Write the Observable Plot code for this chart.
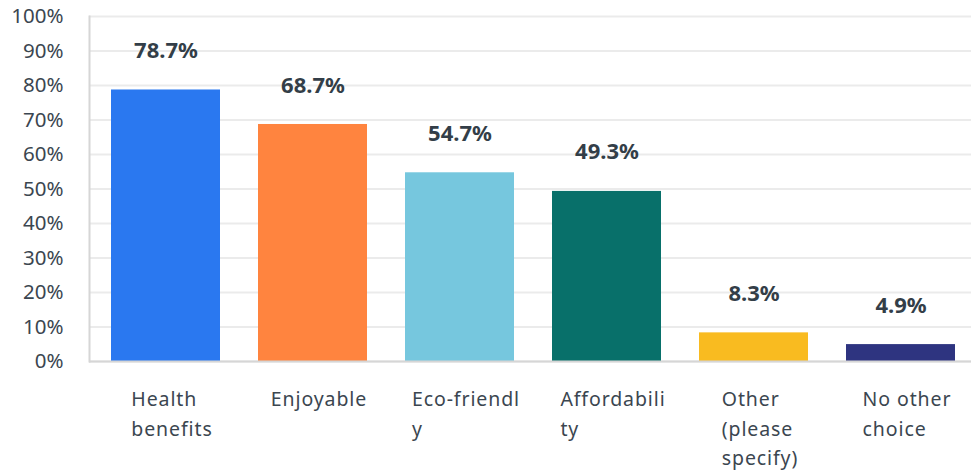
<!DOCTYPE html>
<html>
<head>
<meta charset="utf-8">
<script src="https://cdn.jsdelivr.net/npm/d3@7"></script>
<script src="https://cdn.jsdelivr.net/npm/@observablehq/plot@0.6"></script>
<style>
  html, body { margin: 0; padding: 0; background: #fff; }
  #chart svg { display: block; }
</style>
</head>
<body>
<div id="chart"></div>
<script>
const categories = ["Health benefits", "Enjoyable", "Eco-friendly", "Affordability", "Other (please specify)", "No other choice"];
const values = [78.7, 68.7, 54.7, 49.3, 8.3, 4.9];
const tickLabels = ["Health\nbenefits", "Enjoyable", "Eco-friendl\ny", "Affordabili\nty", "Other\n(please\nspecify)", "No other\nchoice"];
const colors = ["#2a78f0", "#ff843f", "#76c7de", "#08706a", "#f9bb20", "#2e3480"];
const yTicks = [0, 10, 20, 30, 40, 50, 60, 70, 80, 90, 100];

const data = categories.map((c, i) => ({category: c, value: values[i], color: colors[i], label: tickLabels[i]}));

const FONT = "'Noto Sans', sans-serif";

const chart = Plot.plot({
  width: 971,
  height: 471,
  marginTop: 16,
  marginLeft: 89,
  marginRight: 0,
  marginBottom: 110,
  style: {fontFamily: FONT, fontSize: "20px", color: "#3b4650", background: "#fff"},
  x: {domain: categories, range: [89, 977], paddingInner: 0.257, paddingOuter: 0.14, align: 0.5, label: null, axis: null},
  y: {domain: [0, 100], label: null, axis: null},
  marks: [
    Plot.gridY(yTicks, {stroke: "#ebebeb", strokeOpacity: 1, strokeWidth: 2}),
    Plot.barY(data, {x: "category", y: "value", fill: "color"}),
    Plot.ruleY([0], {stroke: "#d6d6d6", strokeWidth: 2}),
    Plot.frame({anchor: "left", stroke: "#d6d6d6", strokeWidth: 2}),
    Plot.text(data, {x: "category", y: "value", text: d => d.value.toFixed(1) + "%", dy: -39, fontWeight: "bold", fontSize: 22, fill: "#333e48"}),
    Plot.axisY(yTicks, {tickSize: 0, tickPadding: 26, tickFormat: d => d + "%", fontSize: 20.5, fill: "#3b4650"}),
    Plot.text(data, {x: "category", frameAnchor: "bottom", text: "label", dy: 24, dx: 6, lineHeight: 1.5, lineAnchor: "top", fontSize: 19.5, fill: "#3b4650"})
  ]
});

document.getElementById("chart").appendChild(chart);

// left-align the lines of each multi-line x label while keeping the block centred
const flatLabels = new Set(tickLabels.map(s => s.replace(/\n/g, "")));
Array.from(chart.querySelectorAll("text"))
  .filter(t => flatLabels.has(t.textContent.replace(/\s*\n\s*/g, "")))
  .forEach(t => {
    t.style.letterSpacing = "0.9px";
    const bb = t.getBBox();
    t.setAttribute("text-anchor", "start");
    t.style.textAnchor = "start";
    const spans = t.querySelectorAll("tspan");
    if (spans.length) spans.forEach(s => s.setAttribute("x", bb.x));
    else t.setAttribute("x", bb.x);
  });
</script>
</body>
</html>
